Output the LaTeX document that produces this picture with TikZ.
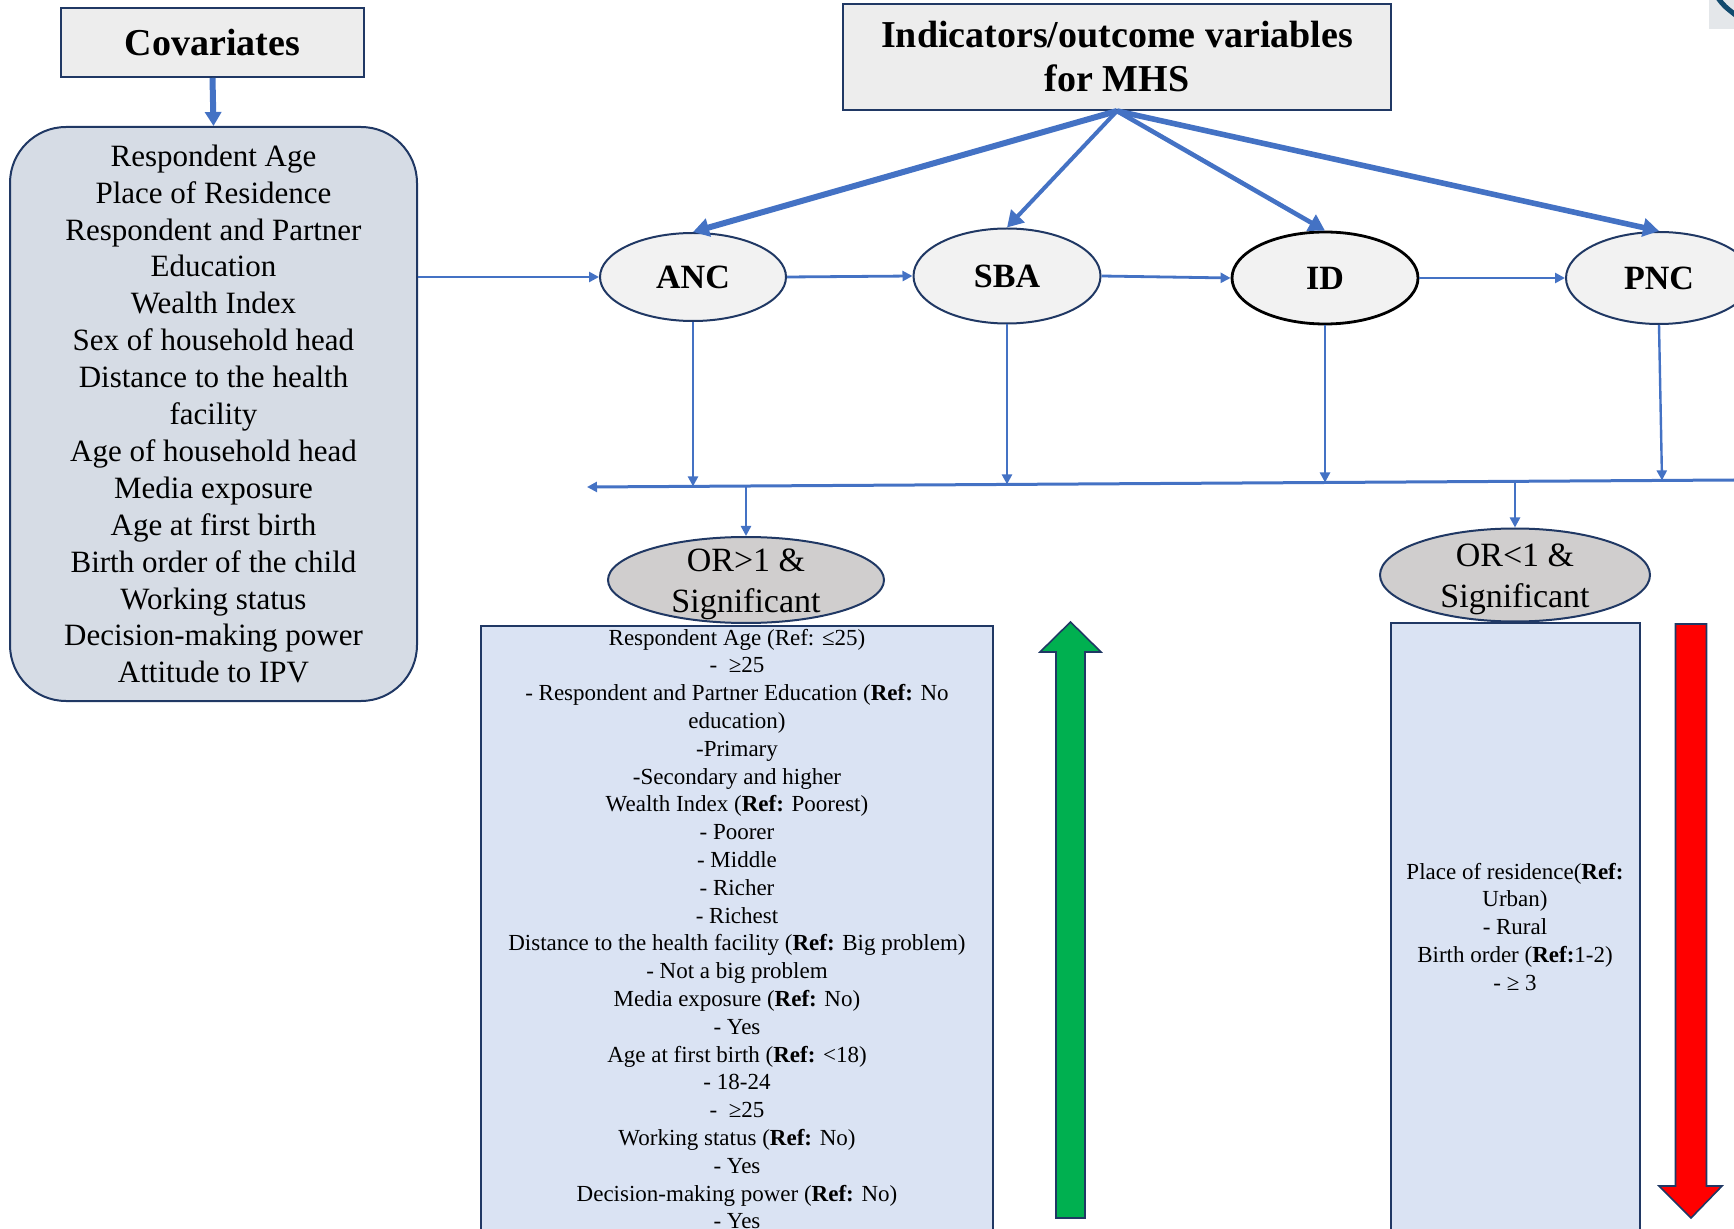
\documentclass[tikz,border=0pt]{standalone}
\usepackage{fontspec}
\setmainfont{Liberation Serif}
\usetikzlibrary{arrows.meta,shapes.geometric}
\definecolor{arrowblue}{HTML}{4472C4}
\definecolor{navy}{HTML}{203864}
\definecolor{boxgrey}{HTML}{EDEDED}
\definecolor{covfill}{HTML}{D6DCE5}
\definecolor{nodefill}{HTML}{F2F2F2}
\definecolor{orfill}{HTML}{D0CECE}
\definecolor{listfill}{HTML}{DAE3F3}
\definecolor{upgreen}{HTML}{00B050}
\definecolor{downred}{HTML}{FF0000}
\definecolor{cornergrey}{HTML}{E4E7EA}
\definecolor{cornerblue}{HTML}{124A6E}
\begin{document}
\begin{tikzpicture}[x=0.5pt,y=-0.5pt,
  headbox/.style={rectangle, draw=navy, line width=1pt, fill=boxgrey, inner sep=0pt, align=center},
  covbox/.style={rectangle, draw=navy, line width=1pt, fill=covfill, rounded corners=28pt, inner sep=0pt, align=center,
    font=\fontsize{15.5}{18.45}\selectfont},
  outnode/.style={ellipse, draw=navy, line width=1pt, fill=nodefill, inner sep=0pt,
    font=\fontsize{17}{20}\selectfont\bfseries},
  ornode/.style={ellipse, draw=navy, line width=1pt, fill=orfill, inner sep=0pt},
  ortext/.style={inner sep=0pt, align=center, font=\fontsize{17}{20.5}\selectfont},
  listbox/.style={rectangle, draw=navy, line width=1pt, fill=listfill, inner sep=0pt},
  listtext/.style={inner sep=0pt, align=center, anchor=north, font=\fontsize{11.5}{13.9}\selectfont},
  toparrow/.style={draw=arrowblue, -{Triangle[length=8pt,width=9pt]}},
  conn/.style={draw=arrowblue, line width=1.4pt, -{Triangle[length=5pt,width=5pt]}},
  downconn/.style={draw=arrowblue, line width=1.2pt, -{Triangle[length=5pt,width=5pt]}},
  bigarrow/.style={draw=navy, line width=0.8pt}
]
\useasboundingbox (0,0) rectangle (1734,1229);
\clip (0,0) rectangle (1734,1229);

% corner fragment
\fill[cornergrey] (1709,0) rectangle (1734,29);
\draw[cornerblue, line width=2.5pt] (1718,-2) .. controls (1724,6) .. (1738,17);

% headers
\node[headbox, minimum width=151.5pt, minimum height=34.5pt,
  font=\fontsize{19}{22}\selectfont\bfseries] (covhead) at (212.5,42.5) {Covariates};
\node[headbox, minimum width=274pt, minimum height=53pt,
  font=\fontsize{19}{22}\selectfont\bfseries] (ind) at (1117,57)
  {Indicators/outcome variables\\for MHS};

% covariate list
\node[covbox, minimum width=203.5pt, minimum height=287pt] (covlist) at (213.5,414)
  {Respondent Age\\Place of Residence\\Respondent and Partner\\Education\\Wealth Index\\
   Sex of household head\\Distance to the health\\facility\\Age of household head\\
   Media exposure\\Age at first birth\\Birth order of the child\\Working status\\
   Decision-making power\\Attitude to IPV};

% outcome nodes
\node[outnode, minimum width=93pt, minimum height=44pt] (anc) at (693,277) {ANC};
\node[outnode, minimum width=93.5pt, minimum height=47.5pt] (sba) at (1007,276) {SBA};
\node[outnode, draw=black, line width=1.4pt, minimum width=93pt, minimum height=46pt] (id) at (1325,278) {ID};
\node[outnode, minimum width=93pt, minimum height=46pt] (pnc) at (1659,278) {PNC};

% list boxes
\node[listbox, minimum width=256pt, minimum height=307pt] (leftbox) at (737,933) {};
\node[listbox, minimum width=124.5pt, minimum height=308.5pt] (rightbox) at (1515.5,931.5) {};

% OR ellipses
\node[ornode, minimum width=138pt, minimum height=43pt] (orgt) at (746,580) {};
\node[ortext] (orgttext) at (746,584) {OR>1 \&\\Significant};
\node[ornode, minimum width=135pt, minimum height=46.5pt] (orlt) at (1515,575) {};
\node[ortext] (orlttext) at (1515,579) {OR<1 \&\\Significant};

% list texts
\node[listtext] (lefttext) at (737,628.5) {Respondent Age (Ref: ≤25)\\
-~ ≥25\\
- Respondent and Partner Education (\textbf{Ref:} No\\
education)\\
-Primary\\
-Secondary and higher\\
Wealth Index (\textbf{Ref:} Poorest)\\
- Poorer\\
- Middle\\
- Richer\\
- Richest\\
Distance to the health facility (\textbf{Ref:} Big problem)\\
- Not a big problem\\
Media exposure (\textbf{Ref:} No)\\
- Yes\\
Age at first birth (\textbf{Ref:} <18)\\
- 18-24\\
-~ ≥25\\
Working status (\textbf{Ref:} No)\\
- Yes\\
Decision-making power (\textbf{Ref:} No)\\
- Yes};
\node[listtext] (righttext) at (1515,862.5) {Place of residence(\textbf{Ref:}\\
Urban)\\
- Rural\\
Birth order (\textbf{Ref:}1-2)\\
- ≥ 3};

% green up arrow and red down arrow
\draw[bigarrow, fill=upgreen] (1056,1218) -- (1056,652) -- (1040,652) -- (1070.5,622)
  -- (1101,652) -- (1085,652) -- (1085,1218) -- cycle;
\draw[bigarrow, fill=downred] (1675.5,624) -- (1675.5,1186) -- (1659,1186) -- (1691,1218)
  -- (1722,1186) -- (1706.5,1186) -- (1706.5,624) -- cycle;

% bus coordinates
\coordinate (busR) at (1734,480);
\coordinate (busL) at (587,487);
\coordinate (landA) at (693,486.4);
\coordinate (landS) at (1007,484.4);
\coordinate (landI) at (1325,482.5);
\coordinate (landP) at (1662,480.4);
\coordinate (dropG) at (746,486);
\coordinate (dropL) at (1515,481.3);

% connectors
\draw[toparrow, line width=3pt, -{Triangle[length=7pt,width=8pt]}] (covhead.south) -- (covlist.north);
\draw[toparrow, line width=3pt] (ind.south) -- (anc.north);
\draw[toparrow, line width=2pt] (ind.south) -- (sba.north);
\draw[toparrow, line width=2.3pt] (ind.south) -- (id.north);
\draw[toparrow, line width=2.8pt] (ind.south) -- (pnc.north);

\draw[conn] (covlist.east |- anc.west) -- (anc.west);
\draw[conn] (anc.east) -- (sba.west);
\draw[conn] (sba.east) -- (id.west);
\draw[conn] (id.east) -- (pnc.west);

\draw[downconn] (anc.south) -- (landA);
\draw[downconn] (sba.south) -- (landS);
\draw[downconn] (id.south) -- (landI);
\draw[downconn] (pnc.south) -- (landP);

\draw[draw=arrowblue, line width=1.5pt, -{Triangle[length=5pt,width=5pt]}] (busR) -- (busL);
\draw[downconn] (dropG) -- (orgt.north);
\draw[downconn] (dropL) -- (orlt.north);
\end{tikzpicture}
\end{document}
